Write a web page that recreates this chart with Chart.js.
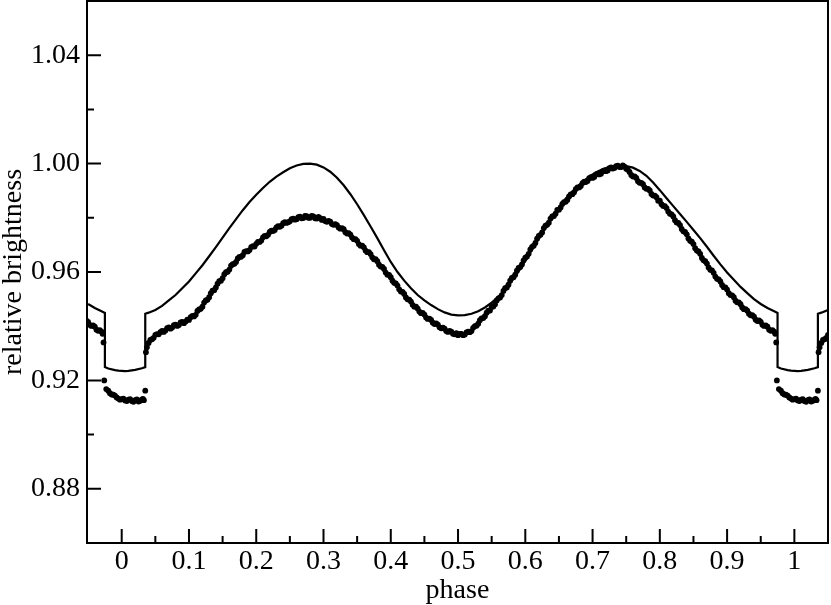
<!DOCTYPE html>
<html>
<head>
<meta charset="utf-8">
<script src="https://cdn.jsdelivr.net/npm/chart.js@4/dist/chart.umd.min.js"></script>
<style>
  html, body { margin: 0; padding: 0; background: #fff; }
  #wrap { width: 831px; height: 605px; }
</style>
</head>
<body>
<div id="wrap"><canvas id="lc" width="831" height="605"></canvas></div>
<script>
// observed light curve, first set (phase, relative brightness)
const obsPhase = [
  0, 0.005, 0.01, 0.015, 0.02, 0.025, 0.03, 0.033, 0.035, 0.036, 0.04, 0.045,
  0.05, 0.055, 0.06, 0.065, 0.07, 0.075, 0.08, 0.085, 0.09, 0.095,
  0.10, 0.105, 0.11, 0.115, 0.12, 0.125, 0.13, 0.135, 0.14, 0.145,
  0.15, 0.155, 0.16, 0.165, 0.17, 0.175, 0.18, 0.185, 0.19, 0.195,
  0.20, 0.205, 0.21, 0.215, 0.22, 0.225, 0.23, 0.235, 0.24, 0.245,
  0.25, 0.255, 0.26, 0.265, 0.27, 0.275, 0.28, 0.285, 0.29, 0.295,
  0.30, 0.305, 0.31, 0.315, 0.32, 0.325, 0.33, 0.335, 0.34, 0.345,
  0.35, 0.355, 0.36, 0.365, 0.37, 0.375, 0.38, 0.385, 0.39, 0.395,
  0.40, 0.405, 0.41, 0.415, 0.42, 0.425, 0.43, 0.435, 0.44, 0.445,
  0.45, 0.455, 0.46, 0.465, 0.47, 0.475, 0.48, 0.485, 0.49, 0.495,
  0.50, 0.505, 0.51, 0.515, 0.52, 0.525, 0.53, 0.535, 0.54, 0.545,
  0.55, 0.555, 0.56, 0.565, 0.57, 0.575, 0.58, 0.585, 0.59, 0.595,
  0.60, 0.605, 0.61, 0.615, 0.62, 0.625, 0.63, 0.635, 0.64, 0.645,
  0.65, 0.655, 0.66, 0.665, 0.67, 0.675, 0.68, 0.685, 0.69, 0.695,
  0.70, 0.705, 0.71, 0.715, 0.72, 0.725, 0.73, 0.735, 0.74, 0.745,
  0.75, 0.755, 0.76, 0.765, 0.77, 0.775, 0.78, 0.785, 0.79, 0.795,
  0.80, 0.805, 0.81, 0.815, 0.82, 0.825, 0.83, 0.835, 0.84, 0.845,
  0.85, 0.855, 0.86, 0.865, 0.87, 0.875, 0.88, 0.885, 0.89, 0.895,
  0.90, 0.905, 0.91, 0.915, 0.92, 0.925, 0.93, 0.935, 0.94, 0.945,
  0.95, 0.955, 0.96, 0.965, 0.97, 0.973, 0.974, 0.977, 0.98, 0.985, 0.99, 0.995
];
const obsFlux = [
  0.9131, 0.9126, 0.9129, 0.9124, 0.9127, 0.9122, 0.9129, 0.9127, 0.9162, 0.9304, 0.9338, 0.9352,
  0.9368, 0.9370, 0.9383, 0.9384, 0.9396, 0.9395, 0.9406, 0.9404, 0.9416, 0.9417,
  0.9423, 0.9438, 0.9442, 0.9462, 0.9472, 0.9495, 0.9507, 0.9531, 0.9543, 0.9566,
  0.9577, 0.9599, 0.9609, 0.9629, 0.9637, 0.9656, 0.9662, 0.9677, 0.9681, 0.9695,
  0.9704, 0.9711, 0.9728, 0.9732, 0.9748, 0.9751, 0.9765, 0.9767, 0.9780, 0.9781,
  0.9787, 0.9797, 0.9795, 0.9804, 0.9799, 0.9806, 0.9800, 0.9805, 0.9797, 0.9799,
  0.9796, 0.9785, 0.9786, 0.9774, 0.9773, 0.9760, 0.9758, 0.9742, 0.9738, 0.9721,
  0.9715, 0.9697, 0.9691, 0.9673, 0.9666, 0.9647, 0.9640, 0.9620, 0.9611, 0.9590,
  0.9581, 0.9560, 0.9550, 0.9528, 0.9519, 0.9499, 0.9491, 0.9472, 0.9465, 0.9448,
  0.9443, 0.9427, 0.9423, 0.9408, 0.9406, 0.9392, 0.9391, 0.9379, 0.9380, 0.9370,
  0.9367, 0.9372, 0.9369, 0.9380, 0.9382, 0.9400, 0.9409, 0.9429, 0.9437, 0.9457,
  0.9471, 0.9481, 0.9503, 0.9515, 0.9540, 0.9553, 0.9578, 0.9590, 0.9615, 0.9628,
  0.9653, 0.9667, 0.9693, 0.9707, 0.9733, 0.9746, 0.9771, 0.9782, 0.9805, 0.9815,
  0.9830, 0.9851, 0.9859, 0.9879, 0.9887, 0.9906, 0.9912, 0.9928, 0.9932, 0.9946,
  0.9947, 0.9960, 0.9960, 0.9972, 0.9972, 0.9983, 0.9982, 0.9991, 0.9987, 0.9993,
  0.9981, 0.9969, 0.9952, 0.9947, 0.9929, 0.9924, 0.9907, 0.9901, 0.9882, 0.9876,
  0.9863, 0.9844, 0.9836, 0.9815, 0.9805, 0.9783, 0.9773, 0.9750, 0.9739, 0.9715,
  0.9703, 0.9679, 0.9667, 0.9643, 0.9631, 0.9608, 0.9597, 0.9575, 0.9565, 0.9544,
  0.9535, 0.9515, 0.9507, 0.9488, 0.9481, 0.9463, 0.9457, 0.9440, 0.9435, 0.9419,
  0.9416, 0.9401, 0.9398, 0.9383, 0.9380, 0.9340, 0.9200, 0.9168, 0.9162, 0.9148, 0.9144, 0.9133
];

// observed light curve, second set
const obsPhaseB = [
  0.0025, 0.0075, 0.0125, 0.0175, 0.0225, 0.0275, 0.0315, 0.0375, 0.0425, 0.0475,
  0.0525, 0.0575, 0.0625, 0.0675, 0.0725, 0.0775, 0.0825, 0.0875, 0.0925, 0.0975,
  0.1025, 0.1075, 0.1125, 0.1175, 0.1225, 0.1275, 0.1325, 0.1375, 0.1425, 0.1475,
  0.1525, 0.1575, 0.1625, 0.1675, 0.1725, 0.1775, 0.1825, 0.1875, 0.1925, 0.1975,
  0.2025, 0.2075, 0.2125, 0.2175, 0.2225, 0.2275, 0.2325, 0.2375, 0.2425, 0.2475,
  0.2525, 0.2575, 0.2625, 0.2675, 0.2725, 0.2775, 0.2825, 0.2875, 0.2925, 0.2975,
  0.3025, 0.3075, 0.3125, 0.3175, 0.3225, 0.3275, 0.3325, 0.3375, 0.3425, 0.3475,
  0.3525, 0.3575, 0.3625, 0.3675, 0.3725, 0.3775, 0.3825, 0.3875, 0.3925, 0.3975,
  0.4025, 0.4075, 0.4125, 0.4175, 0.4225, 0.4275, 0.4325, 0.4375, 0.4425, 0.4475,
  0.4525, 0.4575, 0.4625, 0.4675, 0.4725, 0.4775, 0.4825, 0.4875, 0.4925, 0.4975,
  0.5025, 0.5075, 0.5125, 0.5175, 0.5225, 0.5275, 0.5325, 0.5375, 0.5425, 0.5475,
  0.5525, 0.5575, 0.5625, 0.5675, 0.5725, 0.5775, 0.5825, 0.5875, 0.5925, 0.5975,
  0.6025, 0.6075, 0.6125, 0.6175, 0.6225, 0.6275, 0.6325, 0.6375, 0.6425, 0.6475,
  0.6525, 0.6575, 0.6625, 0.6675, 0.6725, 0.6775, 0.6825, 0.6875, 0.6925, 0.6975,
  0.7025, 0.7075, 0.7125, 0.7175, 0.7225, 0.7275, 0.7325, 0.7375, 0.7425, 0.7475,
  0.7525, 0.7575, 0.7625, 0.7675, 0.7725, 0.7775, 0.7825, 0.7875, 0.7925, 0.7975,
  0.8025, 0.8075, 0.8125, 0.8175, 0.8225, 0.8275, 0.8325, 0.8375, 0.8425, 0.8475,
  0.8525, 0.8575, 0.8625, 0.8675, 0.8725, 0.8775, 0.8825, 0.8875, 0.8925, 0.8975,
  0.9025, 0.9075, 0.9125, 0.9175, 0.9225, 0.9275, 0.9325, 0.9375, 0.9425, 0.9475,
  0.9525, 0.9575, 0.9625, 0.9675, 0.9715, 0.9825, 0.9875, 0.9925, 0.9975
];
const obsFluxB = [
  0.9133, 0.9124, 0.9131, 0.9121, 0.9130, 0.9125, 0.9132, 0.9322, 0.9349, 0.9357,
  0.9371, 0.9378, 0.9379, 0.9393, 0.9391, 0.9404, 0.9401, 0.9414, 0.9411, 0.9424,
  0.9433, 0.9436, 0.9456, 0.9464, 0.9487, 0.9498, 0.9522, 0.9533, 0.9557, 0.9568,
  0.9592, 0.9601, 0.9623, 0.9630, 0.9650, 0.9656, 0.9674, 0.9676, 0.9692, 0.9694,
  0.9711, 0.9716, 0.9733, 0.9737, 0.9753, 0.9755, 0.9769, 0.9771, 0.9784, 0.9784,
  0.9795, 0.9793, 0.9802, 0.9798, 0.9807, 0.9800, 0.9807, 0.9798, 0.9803, 0.9792,
  0.9788, 0.9789, 0.9777, 0.9777, 0.9764, 0.9762, 0.9747, 0.9743, 0.9727, 0.9721,
  0.9703, 0.9697, 0.9679, 0.9673, 0.9654, 0.9647, 0.9627, 0.9619, 0.9598, 0.9589,
  0.9568, 0.9558, 0.9536, 0.9527, 0.9506, 0.9498, 0.9479, 0.9472, 0.9454, 0.9449,
  0.9432, 0.9428, 0.9413, 0.9410, 0.9396, 0.9395, 0.9382, 0.9383, 0.9372, 0.9374,
  0.9372, 0.9367, 0.9377, 0.9378, 0.9394, 0.9402, 0.9422, 0.9430, 0.9450, 0.9458,
  0.9473, 0.9495, 0.9506, 0.9530, 0.9543, 0.9568, 0.9581, 0.9605, 0.9618, 0.9643,
  0.9657, 0.9683, 0.9697, 0.9723, 0.9737, 0.9762, 0.9774, 0.9797, 0.9807, 0.9829,
  0.9838, 0.9858, 0.9866, 0.9886, 0.9894, 0.9912, 0.9917, 0.9933, 0.9936, 0.9950,
  0.9951, 0.9963, 0.9963, 0.9975, 0.9975, 0.9986, 0.9984, 0.9992, 0.9987, 0.9989,
  0.9977, 0.9958, 0.9953, 0.9935, 0.9929, 0.9912, 0.9907, 0.9888, 0.9882, 0.9863,
  0.9850, 0.9843, 0.9823, 0.9813, 0.9791, 0.9781, 0.9759, 0.9748, 0.9724, 0.9712,
  0.9688, 0.9676, 0.9652, 0.9640, 0.9617, 0.9606, 0.9583, 0.9573, 0.9552, 0.9543,
  0.9522, 0.9514, 0.9494, 0.9488, 0.9469, 0.9463, 0.9446, 0.9441, 0.9424, 0.9421,
  0.9405, 0.9403, 0.9387, 0.9385, 0.9372, 0.9153, 0.9147, 0.9137, 0.9129
];

// model light curve
const modelPhase = [
  0, 0.005, 0.01, 0.02, 0.03, 0.035, 0.035,
  0.04, 0.05, 0.06, 0.07, 0.08, 0.09, 0.10, 0.11, 0.12, 0.13, 0.14, 0.15, 0.16, 0.17, 0.18, 0.19,
  0.20, 0.21, 0.22, 0.23, 0.24, 0.25, 0.26, 0.27, 0.28, 0.29, 0.30, 0.31, 0.32, 0.33, 0.34, 0.35,
  0.36, 0.37, 0.38, 0.39, 0.40, 0.41, 0.42, 0.43, 0.44, 0.45, 0.46, 0.47, 0.48, 0.49, 0.50, 0.51,
  0.52, 0.53, 0.54, 0.55, 0.56, 0.57, 0.58, 0.59, 0.60, 0.61, 0.62, 0.63, 0.64, 0.65, 0.66, 0.67,
  0.68, 0.69, 0.70, 0.71, 0.72, 0.73, 0.74, 0.75, 0.76, 0.77, 0.78, 0.79, 0.80, 0.81, 0.82, 0.83,
  0.84, 0.85, 0.86, 0.87, 0.88, 0.89, 0.90, 0.91, 0.92, 0.93, 0.94, 0.95, 0.96, 0.97,
  0.975, 0.975, 0.98, 0.99, 0.995
];
const modelFlux = [
  0.9235, 0.9234, 0.9235, 0.9239, 0.9245, 0.9249, 0.9446,
  0.9450, 0.9460, 0.9475, 0.9495, 0.9515, 0.9540, 0.9565, 0.9595, 0.9625, 0.9658, 0.9692, 0.9727, 0.9762, 0.9795, 0.9828, 0.9858,
  0.9885, 0.9910, 0.9933, 0.9952, 0.9968, 0.9983, 0.9993, 0.9999, 1.0000, 0.9996, 0.9986, 0.9970, 0.9948, 0.9920, 0.9887, 0.9850,
  0.9810, 0.9768, 0.9725, 0.9680, 0.9637, 0.9600, 0.9568, 0.9540, 0.9515, 0.9495, 0.9478, 0.9463, 0.9451, 0.9443, 0.9440, 0.9441,
  0.9446, 0.9455, 0.9469, 0.9487, 0.9508, 0.9535, 0.9567, 0.9603, 0.9642, 0.9683, 0.9725, 0.9765, 0.9803, 0.9838, 0.9870, 0.9897,
  0.9921, 0.9942, 0.9960, 0.9974, 0.9984, 0.9990, 0.9992, 0.9991, 0.9985, 0.9973, 0.9955, 0.9930, 0.9902, 0.9872, 0.9843, 0.9814,
  0.9785, 0.9755, 0.9725, 0.9693, 0.9660, 0.9628, 0.9598, 0.9571, 0.9545, 0.9522, 0.9500, 0.9482, 0.9467, 0.9455,
  0.9449, 0.9249, 0.9244, 0.9238, 0.9236
];

// axes
const xTicks = [0, 0.1, 0.2, 0.3, 0.4, 0.5, 0.6, 0.7, 0.8, 0.9, 1];
const xTickLabels = ['0', '0.1', '0.2', '0.3', '0.4', '0.5', '0.6', '0.7', '0.8', '0.9', '1'];
const xMinor = [0.05, 0.15, 0.25, 0.35, 0.45, 0.55, 0.65, 0.75, 0.85, 0.95];
const yTicks = [0.88, 0.92, 0.96, 1.00, 1.04];
const yTickLabels = ['0.88', '0.92', '0.96', '1.00', '1.04'];
const yMinor = [0.90, 0.94, 0.98, 1.02];

// repeat the ends of the phase-folded curve outside 0..1
function fold(phases, values) {
    const pts = phases.map((p, i) => ({ x: p, y: values[i] }));
    const before = pts.filter(p => p.x >= 0.945).map(p => ({ x: p.x - 1, y: p.y }));
    const after = pts.filter(p => p.x <= 0.055).map(p => ({ x: p.x + 1, y: p.y }));
    return before.concat(pts, after);
}

const serif = 'Liberation Serif, "Times New Roman", serif';

// frame and inward tick marks
const frameTicks = {
    id: 'frameTicks',
    afterDatasetsDraw(chart) {
        const { ctx, chartArea: a, scales: { x, y } } = chart;
        ctx.save();
        ctx.strokeStyle = '#000';
        ctx.lineWidth = 2;
        ctx.beginPath();
        xTicks.forEach(v => { const px = x.getPixelForValue(v); ctx.moveTo(px, a.bottom); ctx.lineTo(px, a.bottom - 14); });
        xMinor.forEach(v => { const px = x.getPixelForValue(v); ctx.moveTo(px, a.bottom); ctx.lineTo(px, a.bottom - 7); });
        yTicks.forEach(v => { const py = y.getPixelForValue(v); ctx.moveTo(a.left, py); ctx.lineTo(a.left + 14, py); });
        yMinor.forEach(v => { const py = y.getPixelForValue(v); ctx.moveTo(a.left, py); ctx.lineTo(a.left + 7, py); });
        ctx.stroke();
        ctx.strokeRect(a.left, a.top, a.right - a.left, a.bottom - a.top);
        ctx.restore();
    }
};

const dot = {
    backgroundColor: '#000',
    borderColor: '#000',
    borderWidth: 0,
    pointRadius: 2.9
};

new Chart(document.getElementById('lc'), {
    type: 'scatter',
    data: {
        datasets: [
            {
                label: 'model',
                data: fold(modelPhase, modelFlux),
                showLine: true,
                borderColor: '#000',
                borderWidth: 2.2,
                pointRadius: 0,
                tension: 0
            },
            Object.assign({ label: 'observed', data: fold(obsPhase, obsFlux) }, dot),
            Object.assign({ label: 'observed B', data: fold(obsPhaseB, obsFluxB) }, dot)
        ]
    },
    options: {
        responsive: false,
        animation: false,
        layout: { autoPadding: false, padding: { top: 1, right: 3, left: 0, bottom: 0 } },
        plugins: { legend: { display: false }, tooltip: { enabled: false } },
        scales: {
            x: {
                type: 'linear',
                min: -0.0516,
                max: 1.05,
                afterBuildTicks: s => { s.ticks = xTicks.map(v => ({ value: v })); },
                afterFit: s => { s.height = 62; s.paddingLeft = 0; s.paddingRight = 0; },
                grid: { display: false, drawTicks: false },
                border: { display: false },
                ticks: {
                    callback: (v, i) => xTickLabels[i],
                    font: { family: serif, size: 28 },
                    color: '#000',
                    padding: 2,
                    maxRotation: 0,
                    autoSkip: false
                },
                title: {
                    display: true,
                    text: 'phase',
                    color: '#000',
                    font: { family: serif, size: 28, lineHeight: 1 },
                    padding: { top: 0, bottom: 0 }
                }
            },
            y: {
                type: 'linear',
                min: 0.86,
                max: 1.06,
                afterBuildTicks: s => { s.ticks = yTicks.map(v => ({ value: v })); },
                afterFit: s => { s.width = 87; s.paddingTop = 0; s.paddingBottom = 0; },
                grid: { display: false, drawTicks: false },
                border: { display: false },
                ticks: {
                    callback: (v, i) => yTickLabels[i],
                    font: { family: serif, size: 28 },
                    color: '#000',
                    padding: 7,
                    autoSkip: false
                },
                title: {
                    display: true,
                    text: 'relative brightness',
                    color: '#000',
                    font: { family: serif, size: 28, lineHeight: 1 },
                    padding: { top: 0, bottom: 0 }
                }
            }
        }
    },
    plugins: [frameTicks]
});
</script>
</body>
</html>
